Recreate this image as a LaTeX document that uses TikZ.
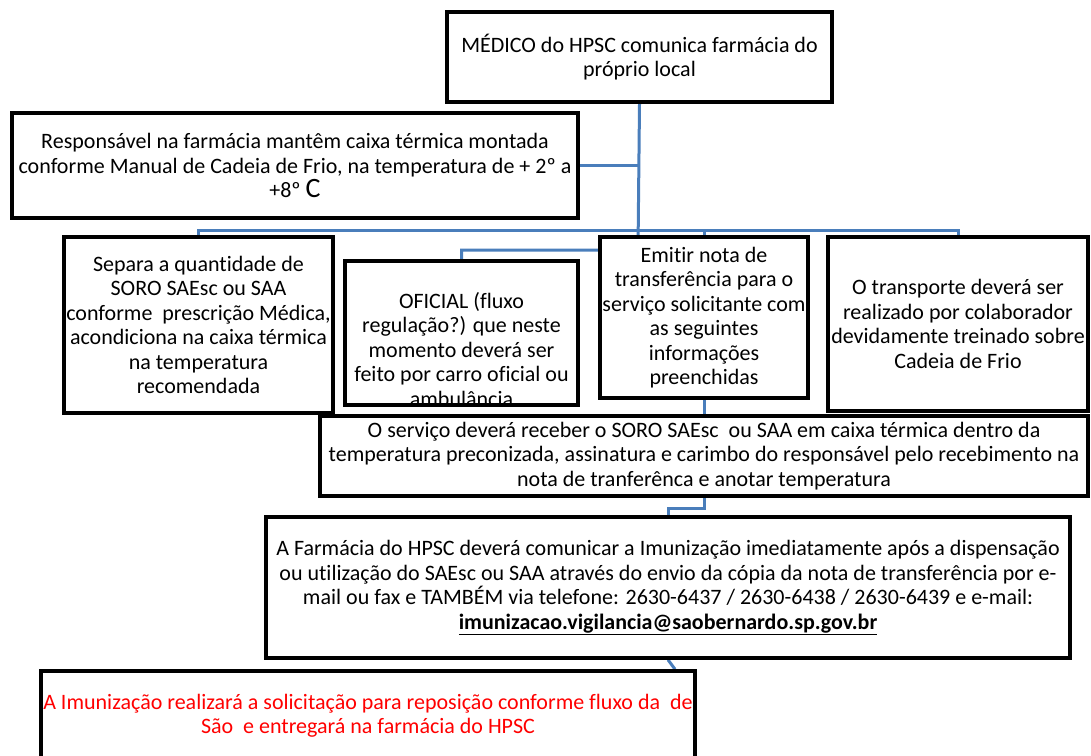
\documentclass[tikz,border=0pt]{standalone}
\usepackage{fontspec}
\setmainfont{Carlito}[Ligatures=NoCommon]
\usepackage{tikz}
\usetikzlibrary{backgrounds}
\definecolor{linkblue}{HTML}{4A7EBB}
\tikzset{
  caixa/.style={draw=black, line width=3.5pt, fill=white, align=center, inner sep=0pt,
    font=\fontsize{22}{24.5}\selectfont},
  texto/.style={align=center, inner sep=0pt, font=\fontsize{22}{24.5}\selectfont},
  liga/.style={draw=linkblue, line width=3pt},
}

\begin{document}
\begin{tikzpicture}[x=1pt,y=-1pt]
\clip (0,0) rectangle (1091,755);
\node[caixa, minimum width=385, minimum height=90] (medico) at (639.5,57) {MÉDICO do HPSC comunica farmácia do\\próprio local};
\node[caixa, minimum width=566, minimum height=105] (resp) at (295,165.5) {Responsável na farmácia mantêm caixa térmica montada\\conforme Manual de Cadeia de Frio, na temperatura de + 2º a\\+8º {\fontsize{28}{24.5}\selectfont C}};
\node[caixa, minimum width=269, minimum height=176] (separa) at (198.5,325) {Separa a quantidade de\\SORO SAEsc ou SAA\\conforme\ \ prescrição Médica,\\acondiciona na caixa térmica\\na temperatura\\recomendada};
\node[caixa, minimum width=233, minimum height=144,
  label={[texto, yshift=-16.5]center:{OFICIAL (fluxo\\regulação?) que neste\\momento deverá ser\\feito por carro oficial ou\\ambulância}}] (oficial) at (461.5,333) {};
\node[caixa, minimum width=208, minimum height=161] (emitir) at (704,317.5) {Emitir nota de\\transferência para o\\serviço solicitante com\\as seguintes\\informações\\preenchidas};
\node[caixa, minimum width=260, minimum height=174] (transp) at (958,324) {O transporte deverá ser\\realizado por colaborador\\devidamente treinado sobre\\Cadeia de Frio};
\node[caixa, minimum width=768, minimum height=80] (servico) at (704,456) {O serviço deverá receber o SORO SAEsc\ \ ou SAA em caixa térmica dentro da\\temperatura preconizada, assinatura e carimbo do responsável pelo recebimento na\\nota de tranferênca e anotar temperatura};
\node[caixa, minimum width=804, minimum height=141] (farmacia) at (668,587.5) {A Farmácia do HPSC deverá comunicar a Imunização imediatamente após a dispensação\\ou utilização do SAEsc ou SAA através do envio da cópia da nota de transferência por e-\\mail ou fax e TAMBÉM via telefone: 2630-6437 / 2630-6438 / 2630-6439 e e-mail:\\\textbf{\underline{imunizacao.vigilancia@saobernardo.sp.gov.br}}};
\node[caixa, text=red, minimum width=654, minimum height=89] (imuniz) at (368,715.5) {A Imunização realizará a solicitação para reposição conforme fluxo da\ \ de\\São\ \ e entregará na farmácia do HPSC};

\begin{scope}[on background layer]
\coordinate (bus) at (638,230);
\coordinate (desvio) at (638,250);
\draw[liga] (medico.south) -- (desvio) -| (oficial.north);
\draw[liga] (resp.east) -- (resp.east -| medico.south);
\draw[liga] (separa.north) |- (bus) -| (transp.north);
\draw[liga] (bus -| emitir.north) -- (emitir.north);
\draw[liga] (emitir.south) -- (emitir.south |- servico.north);
\draw[liga] (servico.south) -- ++(0,11) -| (farmacia.north);
\draw[liga] (farmacia.south) -- ([xshift=7pt]farmacia.south |- imuniz.north);
\end{scope}
\end{tikzpicture}
\end{document}
